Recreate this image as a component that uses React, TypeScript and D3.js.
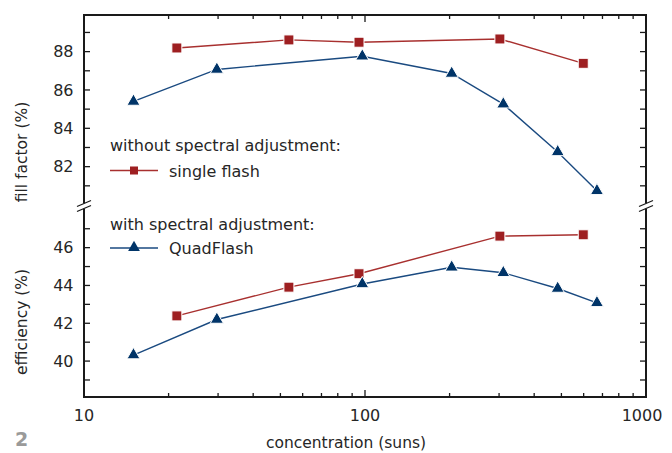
import React from "react";
import * as d3 from "d3";

const concQuad = [15, 29.7, 97.8, 203.5, 310.6, 485, 669];
const ffQuad = [85.4, 87.07, 87.76, 86.86, 85.26, 82.77, 80.74];
const effQuad = [40.32, 42.2, 44.08, 44.96, 44.67, 43.84, 43.08];

const concSingle = [21.4, 53.6, 95.2, 302, 598];
const ffSingle = [88.19, 88.61, 88.49, 88.66, 87.39];
const effSingle = [42.39, 43.91, 44.62, 46.61, 46.68];

const xMajor = [10, 100, 1000];
const xMinor = [20, 30, 40, 50, 60, 70, 80, 90, 200, 300, 400, 500, 600, 700, 800, 900];
const ffTicks = [81, 82, 83, 84, 85, 86, 87, 88, 89];
const ffLabels = [82, 84, 86, 88];
const effTicks = [39, 40, 41, 42, 43, 44, 45, 46, 47];
const effLabels = [40, 42, 44, 46];

const RED = "#9e1f21";
const RED_LINE = "#a8302f";
const BLUE = "#003468";
const BLUE_LINE = "#1a4a80";
const AX = "#1a1a1a";
const TXT = "#262626";
const FONT = "'DejaVu Sans', 'Open Sans', sans-serif";

export default function App() {
  const left = 84, right = 646, top = 15, bottom = 397;
  const x = d3.scaleLog().domain([10, 1000]).range([left, right]);
  const yTop = d3.scaleLinear().domain([80, 89.91]).range([205, top]);
  const yBot = d3.scaleLinear().domain([38.1, 48.15]).range([bottom, 207]);
  const brkA = 203.5, brkB = 208.5;

  const line = (xs: number[], ys: number[], y: any) =>
    d3.line<number>().x((_, i) => x(xs[i])).y((v) => y(v))(ys) || "";

  const tri = d3.symbol().type(d3.symbolTriangle).size(74)() || "";
  const triLeg = d3.symbol().type(d3.symbolTriangle).size(60)() || "";

  const squares = (xs: number[], ys: number[], y: any, k: string) =>
    xs.map((c, i) => (
      <rect key={k + i} x={x(c) - 5} y={y(ys[i]) - 5} width={10} height={10}
        fill={RED} stroke="#fff" strokeWidth={1} />
    ));
  const tris = (xs: number[], ys: number[], y: any, k: string) =>
    xs.map((c, i) => (
      <path key={k + i} d={tri} transform={`translate(${x(c)},${y(ys[i])})`}
        fill={BLUE} stroke="#fff" strokeWidth={1} />
    ));

  const yTickMarks = (vals: number[], y: any, k: string) =>
    vals.map((v) => (
      <g key={k + v}>
        <line x1={left} x2={left + 6} y1={y(v)} y2={y(v)} stroke={AX} strokeWidth={1.3} />
        <line x1={right} x2={right - 6} y1={y(v)} y2={y(v)} stroke={AX} strokeWidth={1.3} />
      </g>
    ));

  const brk = (cx: number, k: string) => (
    <g key={k}>
      <rect x={cx - 3} y={brkA} width={6} height={brkB - brkA} fill="#fff" />
      <line x1={cx - 7} y1={brkA + 3} x2={cx + 7} y2={brkA - 3} stroke={AX} strokeWidth={1.3} />
      <line x1={cx - 7} y1={brkB + 3} x2={cx + 7} y2={brkB - 3} stroke={AX} strokeWidth={1.3} />
    </g>
  );

  return (
    <svg width={672} height={453} style={{ position: "absolute", left: 0, top: 0, display: "block", background: "#fff" }}
      fontFamily={FONT}>
      {/* frame */}
      <line x1={left} x2={right} y1={top} y2={top} stroke={AX} strokeWidth={2} />
      <line x1={left} x2={right} y1={bottom} y2={bottom} stroke={AX} strokeWidth={2} />
      <line x1={left} x2={left} y1={top - 1} y2={brkA} stroke={AX} strokeWidth={2} />
      <line x1={left} x2={left} y1={brkB} y2={bottom + 1} stroke={AX} strokeWidth={2} />
      <line x1={right} x2={right} y1={top - 1} y2={brkA} stroke={AX} strokeWidth={2} />
      <line x1={right} x2={right} y1={brkB} y2={bottom + 1} stroke={AX} strokeWidth={2} />
      {brk(left, "bl")}
      {brk(right, "br")}

      {/* x ticks */}
      {xMajor.map((v) => (
        <g key={"xM" + v}>
          <line x1={x(v)} x2={x(v)} y1={bottom} y2={bottom - 7} stroke={AX} strokeWidth={1.3} />
          <line x1={x(v)} x2={x(v)} y1={top} y2={top + 7} stroke={AX} strokeWidth={1.3} />
          <text x={x(v) - (v === 1000 ? 4 : 0)} y={421} textAnchor="middle" fontSize={16} fill={TXT}>{v}</text>
        </g>
      ))}
      {xMinor.map((v) => (
        <g key={"xm" + v}>
          <line x1={x(v)} x2={x(v)} y1={bottom} y2={bottom - 4} stroke={AX} strokeWidth={1.3} />
          <line x1={x(v)} x2={x(v)} y1={top} y2={top + 4} stroke={AX} strokeWidth={1.3} />
        </g>
      ))}

      {/* y ticks */}
      {yTickMarks(ffTicks, yTop, "ft")}
      {yTickMarks(effTicks, yBot, "et")}
      {ffLabels.map((v) => (
        <text key={"fl" + v} x={73.5} y={yTop(v)} dy="0.36em" textAnchor="end" fontSize={16} fill={TXT}>{v}</text>
      ))}
      {effLabels.map((v) => (
        <text key={"el" + v} x={73.5} y={yBot(v)} dy="0.36em" textAnchor="end" fontSize={16} fill={TXT}>{v}</text>
      ))}

      {/* axis titles */}
      <text transform={`translate(27,${152}) rotate(-90)`} textAnchor="middle" fontSize={15.5} fill={TXT}>fill factor (%)</text>
      <text transform={`translate(27,${322}) rotate(-90)`} textAnchor="middle" fontSize={15.5} fill={TXT}>efficiency (%)</text>
      <text x={346} y={448} textAnchor="middle" fontSize={15.5} fill={TXT}>concentration (suns)</text>
      <text x={15} y={446} fontSize={19} fontWeight="bold" fill="#9a9a9a">2</text>

      {/* series lines */}
      <path d={line(concSingle, ffSingle, yTop)} fill="none" stroke={RED_LINE} strokeWidth={1.4} />
      <path d={line(concQuad, ffQuad, yTop)} fill="none" stroke={BLUE_LINE} strokeWidth={1.4} />
      <path d={line(concSingle, effSingle, yBot)} fill="none" stroke={RED_LINE} strokeWidth={1.4} />
      <path d={line(concQuad, effQuad, yBot)} fill="none" stroke={BLUE_LINE} strokeWidth={1.4} />
      {squares(concSingle, ffSingle, yTop, "sf")}
      {tris(concQuad, ffQuad, yTop, "qf")}
      {squares(concSingle, effSingle, yBot, "se")}
      {tris(concQuad, effQuad, yBot, "qe")}

      {/* legend */}
      <text x={110} y={151} fontSize={16} fill={TXT}>without spectral adjustment:</text>
      <line x1={110} x2={158} y1={170.5} y2={170.5} stroke={RED_LINE} strokeWidth={1.4} />
      <rect x={130} y={166.5} width={8} height={8} fill={RED} />
      <text x={169} y={176.5} fontSize={16} fill={TXT}>single flash</text>
      <text x={110} y={230} fontSize={16} fill={TXT}>with spectral adjustment:</text>
      <line x1={110} x2={158} y1={248} y2={248} stroke={BLUE_LINE} strokeWidth={1.4} />
      <path d={triLeg} transform="translate(134,247.5)" fill={BLUE} />
      <text x={169} y={254} fontSize={16} fill={TXT}>QuadFlash</text>
    </svg>
  );
}
